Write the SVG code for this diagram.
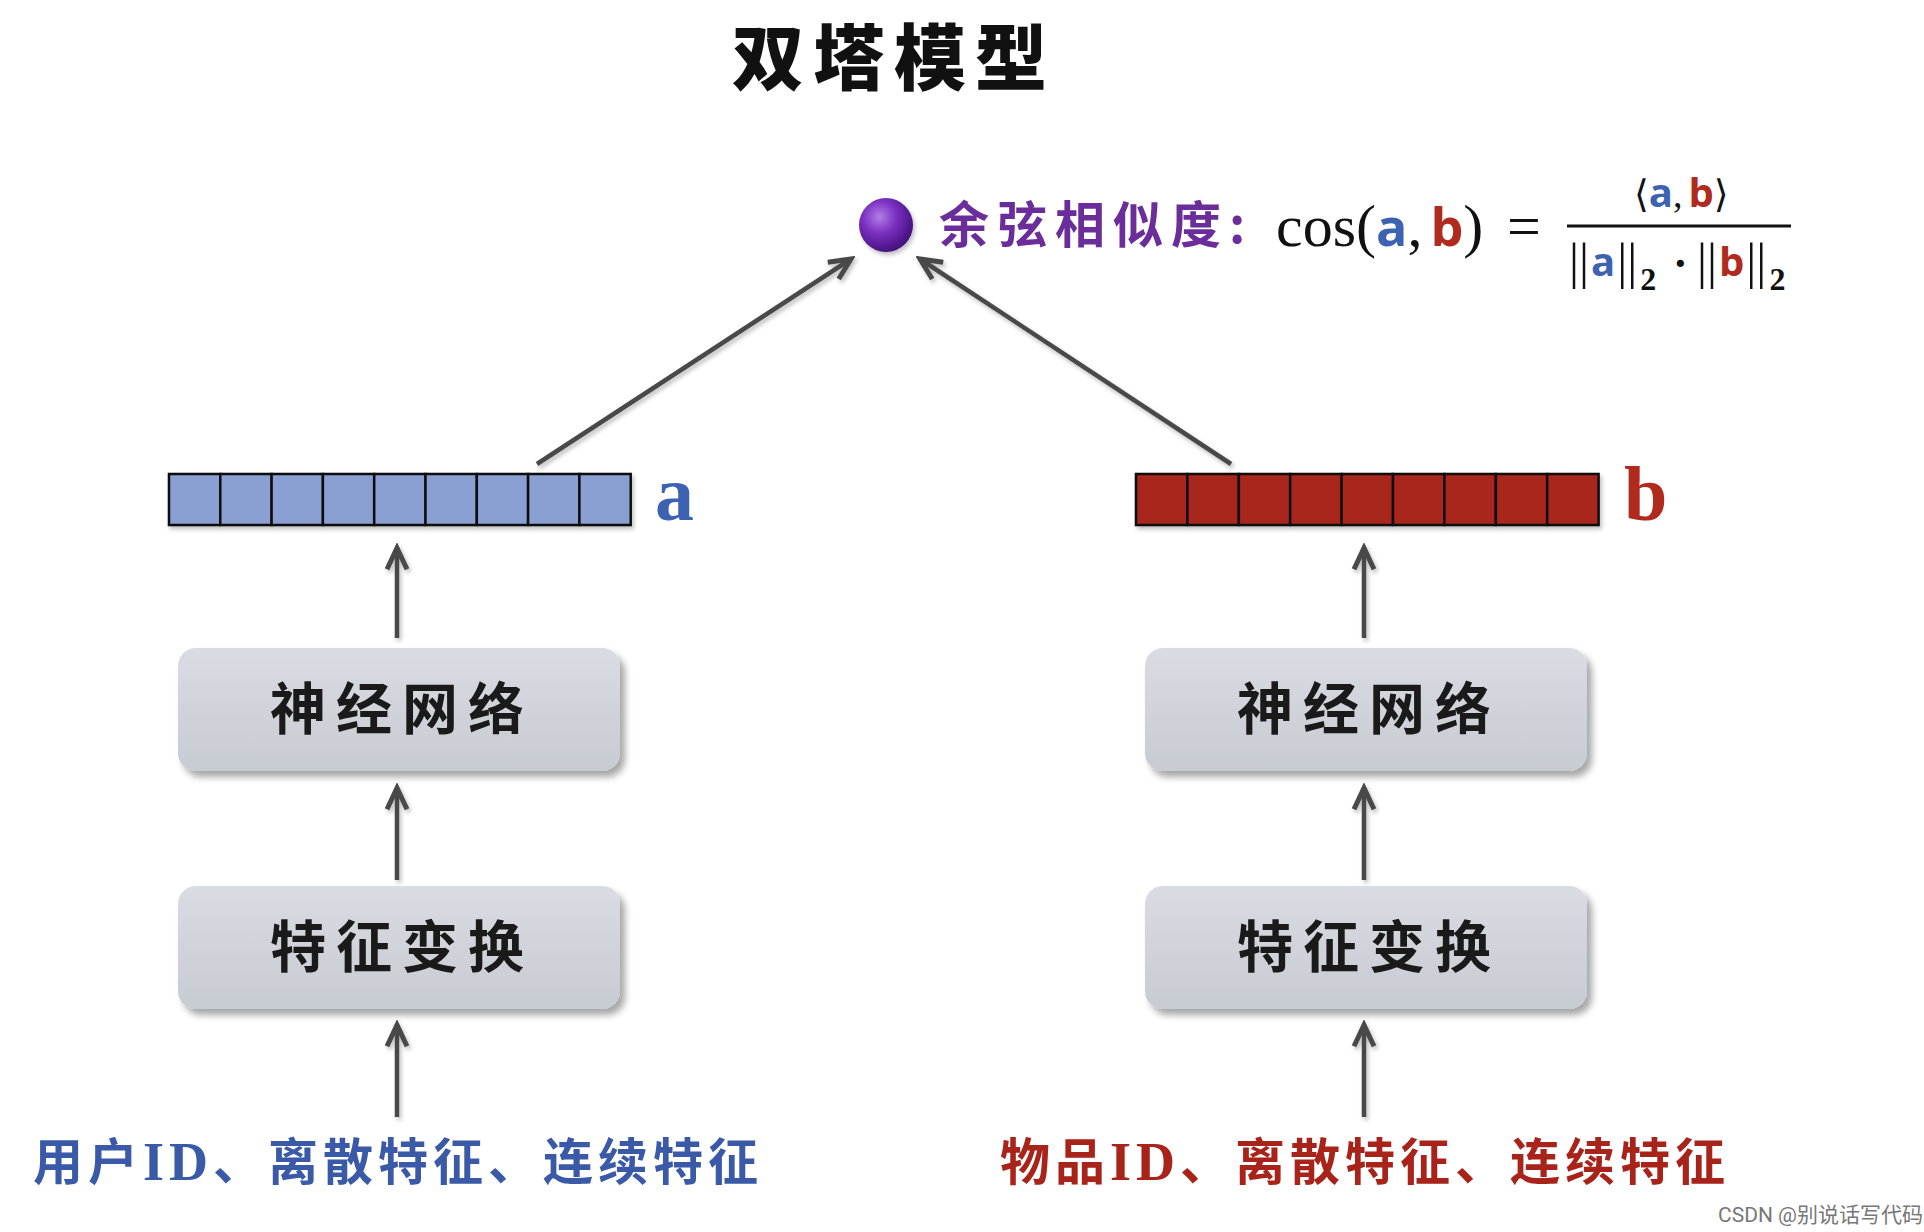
<svg xmlns="http://www.w3.org/2000/svg" width="1924" height="1232" viewBox="0 0 1924 1232">
<defs>
<style>
.cjk{font-family:"Noto Sans CJK SC","Noto Sans",sans-serif}
.title{font-size:72px;font-weight:900;fill:#111;letter-spacing:9px}
.box text{font-size:56px;font-weight:700;fill:#1a1a1a;letter-spacing:10px}
.conn{stroke:#4a4a4a;stroke-width:4.5;fill:none}
.cell-a{fill:#8aa0d2;stroke:#111;stroke-width:2.5}
.cell-b{fill:#a8261a;stroke:#111;stroke-width:2.5}
.serif{font-family:"Liberation Serif","DejaVu Serif",serif}
.bold{font-weight:700}
.blue{fill:#3d62b2}
.red{fill:#b02a1d}
</style>
<linearGradient id="boxg" x1="0" y1="0" x2="0" y2="1">
<stop offset="0" stop-color="#d9dce2"/>
<stop offset="1" stop-color="#c7cbd2"/>
</linearGradient>
<radialGradient id="ball" cx="0.38" cy="0.35" r="0.7">
<stop offset="0" stop-color="#b27de6"/>
<stop offset="0.45" stop-color="#7a2fc0"/>
<stop offset="1" stop-color="#3f0e78"/>
</radialGradient>
<filter id="sh" x="-10%" y="-20%" width="125%" height="150%">
<feDropShadow dx="5" dy="6" stdDeviation="3.5" flood-color="#000" flood-opacity="0.35"/>
</filter>
<filter id="lsh" x="-10%" y="-10%" width="130%" height="130%">
<feDropShadow dx="2" dy="3" stdDeviation="2" flood-color="#000" flood-opacity="0.25"/>
</filter>
<marker id="arr" markerUnits="userSpaceOnUse" markerWidth="30" markerHeight="30" viewBox="-20 -12 24 24" refX="0" refY="0" orient="auto">
<path d="M -17 -8 L 0 0 L -17 8" fill="none" stroke="#4a4a4a" stroke-width="4" stroke-linejoin="miter"/>
</marker>
</defs>
<rect width="1924" height="1232" fill="#ffffff"/>

<text class="cjk title" x="894" y="84" text-anchor="middle">双塔模型</text>

<g id="connectors" filter="url(#lsh)">
<line class="conn" x1="537" y1="464" x2="851" y2="259" marker-end="url(#arr)"/>
<line class="conn" x1="1231" y1="464" x2="920" y2="259" marker-end="url(#arr)"/>
<line class="conn" x1="397" y1="638" x2="397" y2="548" marker-end="url(#arr)"/>
<line class="conn" x1="397" y1="880" x2="397" y2="788" marker-end="url(#arr)"/>
<line class="conn" x1="397" y1="1117" x2="397" y2="1025" marker-end="url(#arr)"/>
<line class="conn" x1="1364" y1="638" x2="1364" y2="548" marker-end="url(#arr)"/>
<line class="conn" x1="1364" y1="880" x2="1364" y2="788" marker-end="url(#arr)"/>
<line class="conn" x1="1364" y1="1117" x2="1364" y2="1025" marker-end="url(#arr)"/>
</g>

<g id="similarity">
<circle cx="886" cy="225" r="27" fill="url(#ball)" filter="url(#lsh)"/>
<text class="cjk" x="939" y="243" font-size="50" font-weight="700" fill="#6a2d9a" letter-spacing="8">余弦相似度:</text>
<text class="serif" y="246" font-size="60" fill="#111"><tspan x="1276">cos(</tspan><tspan class="bold blue" font-family="Open Sans, Liberation Sans, sans-serif" font-size="52">a</tspan><tspan>,</tspan><tspan class="bold red" font-family="Open Sans, Liberation Sans, sans-serif" font-size="52" dx="8">b</tspan><tspan>)</tspan><tspan x="1507">=</tspan></text>
<text y="207" font-size="38" font-family="DejaVu Sans, sans-serif" fill="#111"><tspan x="1634">⟨</tspan><tspan class="bold blue" font-family="Open Sans, Liberation Sans, sans-serif" font-size="40">a</tspan><tspan font-family="Liberation Serif, serif">,</tspan><tspan class="bold red" font-family="Open Sans, Liberation Sans, sans-serif" font-size="40" dx="6">b</tspan><tspan>⟩</tspan></text>
<line x1="1567" y1="226" x2="1791" y2="226" stroke="#111" stroke-width="3"/>
<text y="278" font-size="50" font-family="Liberation Serif, serif" fill="#111"><tspan x="1569">||</tspan><tspan class="bold blue" font-family="Open Sans, Liberation Sans, sans-serif" font-size="40" dx="2" dy="-2">a</tspan><tspan dx="2" dy="2">||</tspan><tspan font-size="32" font-weight="700" dy="12" dx="3">2</tspan><tspan dy="-12" x="1673" font-weight="700" font-size="44">·</tspan><tspan x="1697">||</tspan><tspan class="bold red" font-family="Open Sans, Liberation Sans, sans-serif" font-size="40" dx="2" dy="-2">b</tspan><tspan dx="2" dy="2">||</tspan><tspan font-size="32" font-weight="700" dy="12" dx="3">2</tspan></text>
</g>

<g id="vector-a">
<g filter="url(#lsh)">
<rect class="cell-a" x="169" y="474" width="51.3" height="51"/>
<rect class="cell-a" x="220.3" y="474" width="51.3" height="51"/>
<rect class="cell-a" x="271.6" y="474" width="51.3" height="51"/>
<rect class="cell-a" x="322.9" y="474" width="51.3" height="51"/>
<rect class="cell-a" x="374.2" y="474" width="51.3" height="51"/>
<rect class="cell-a" x="425.5" y="474" width="51.3" height="51"/>
<rect class="cell-a" x="476.8" y="474" width="51.3" height="51"/>
<rect class="cell-a" x="528.1" y="474" width="51.3" height="51"/>
<rect class="cell-a" x="579.4" y="474" width="51.3" height="51"/>
</g>
<text class="serif bold blue" x="655" y="520" font-size="78">a</text>
</g>

<g id="vector-b">
<g filter="url(#lsh)">
<rect class="cell-b" x="1136" y="474" width="51.4" height="51"/>
<rect class="cell-b" x="1187.4" y="474" width="51.4" height="51"/>
<rect class="cell-b" x="1238.8" y="474" width="51.4" height="51"/>
<rect class="cell-b" x="1290.2" y="474" width="51.4" height="51"/>
<rect class="cell-b" x="1341.6" y="474" width="51.4" height="51"/>
<rect class="cell-b" x="1393" y="474" width="51.4" height="51"/>
<rect class="cell-b" x="1444.4" y="474" width="51.4" height="51"/>
<rect class="cell-b" x="1495.8" y="474" width="51.4" height="51"/>
<rect class="cell-b" x="1547.2" y="474" width="51.4" height="51"/>
</g>
<text class="serif bold red" x="1624" y="520" font-size="78">b</text>
</g>

<g id="nn-left" class="box">
<rect x="178" y="648" width="442" height="123" rx="18" fill="url(#boxg)" filter="url(#sh)"/>
<text class="cjk" x="402" y="729" text-anchor="middle">神经网络</text>
</g>
<g id="ft-left" class="box">
<rect x="178" y="886" width="442" height="123" rx="18" fill="url(#boxg)" filter="url(#sh)"/>
<text class="cjk" x="402" y="967" text-anchor="middle">特征变换</text>
</g>
<g id="nn-right" class="box">
<rect x="1145" y="648" width="442" height="123" rx="18" fill="url(#boxg)" filter="url(#sh)"/>
<text class="cjk" x="1369" y="729" text-anchor="middle">神经网络</text>
</g>
<g id="ft-right" class="box">
<rect x="1145" y="886" width="442" height="123" rx="18" fill="url(#boxg)" filter="url(#sh)"/>
<text class="cjk" x="1369" y="967" text-anchor="middle">特征变换</text>
</g>

<g id="input-user">
<text class="cjk" x="33" y="1180" font-size="50" font-weight="700" fill="#3a5aa8" letter-spacing="5">用户<tspan font-family="Liberation Serif, serif" font-size="54">ID</tspan>、离散特征、连续特征</text>
</g>
<g id="input-item">
<text class="cjk" x="1000" y="1180" font-size="50" font-weight="700" fill="#a8231a" letter-spacing="5">物品<tspan font-family="Liberation Serif, serif" font-size="54">ID</tspan>、离散特征、连续特征</text>
</g>

<text x="1718" y="1222" font-family="Roboto, Liberation Sans, sans-serif" font-size="21" fill="#777">CSDN @<tspan font-family="Noto Sans CJK SC, sans-serif">别说话写代码</tspan></text>
</svg>
